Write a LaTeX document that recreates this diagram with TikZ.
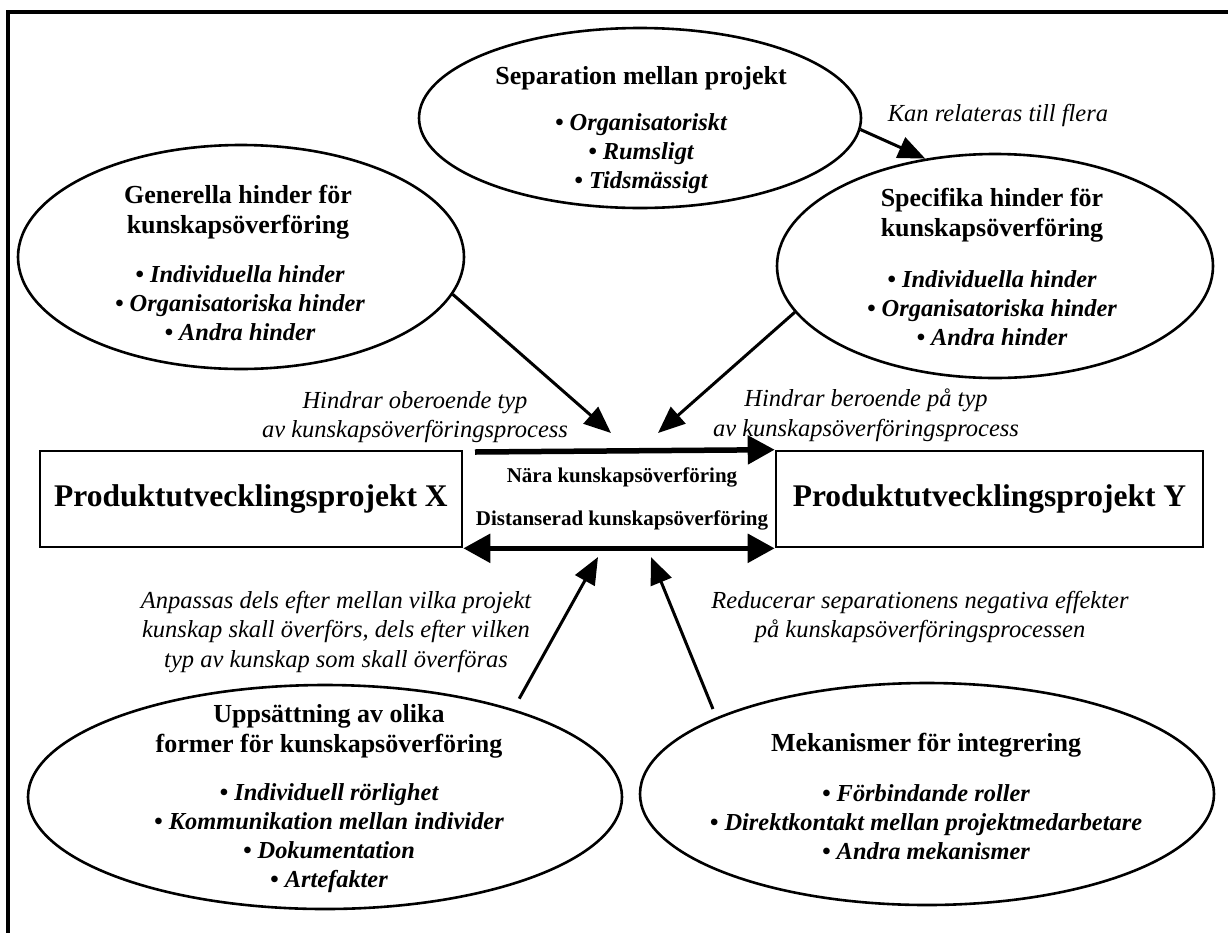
\documentclass[tikz,border=0pt]{standalone}
\usepackage{fontspec}
\setmainfont{Liberation Serif}
\usetikzlibrary{arrows.meta,positioning,shapes.geometric}

\begin{document}
\begin{tikzpicture}[x=1pt,y=-1pt,
  blob/.style={ellipse, draw, line width=2.6pt, inner sep=0pt},
  ttl/.style={font=\fontsize{26}{30}\selectfont\bfseries, align=center},
  itm/.style={font=\fontsize{24.4}{29}\selectfont\bfseries\itshape, align=center},
  lab/.style={font=\fontsize{24.5}{29.5}\selectfont\itshape, align=center},
  proj/.style={draw, line width=2.6pt, minimum height=96pt, inner sep=0pt, font=\fontsize{31.5}{36}\selectfont\bfseries},
  flowtxt/.style={font=\fontsize{21}{24}\selectfont\bfseries},
  arr/.style={line width=3pt, -{Triangle[length=27pt,width=22pt]}},
  flow/.style={line width=5.5pt},
  bighead/.tip={Triangle[length=27pt,width=28pt]}]
  \useasboundingbox (0,0) rectangle (1228,935);
  \draw[line width=3.5pt] (1228,12) -- (8,12) -- (8,933);

  \node[blob, minimum width=442pt, minimum height=180pt] (sep) at (640,118) {};
  \node[blob, minimum width=446pt, minimum height=224pt] (gen) at (241,257) {};
  \node[blob, minimum width=436pt, minimum height=224pt] (spec) at (995,266) {};
  \node[blob, minimum width=594pt, minimum height=224pt] (upp) at (325,797) {};
  \node[blob, minimum width=574pt, minimum height=222pt] (mek) at (927,794) {};

  \node[ttl] (sepT) at (641,78) {Separation mellan projekt};
  \node[itm] (sepL) at (641,154) {• Organisatoriskt\\• Rumsligt\\• Tidsmässigt};
  \node[ttl] (genT) at (238,212) {Generella hinder för\\kunskapsöverföring};
  \node[itm] (genL) at (240,303) {• Individuella hinder\\• Organisatoriska hinder\\• Andra hinder};
  \node[ttl] (specT) at (992,215) {Specifika hinder för\\kunskapsöverföring};
  \node[itm] (specL) at (992,308) {• Individuella hinder\\• Organisatoriska hinder\\• Andra hinder};
  \node[ttl] (uppT) at (329,731) {Uppsättning av olika\\former för kunskapsöverföring};
  \node[itm] (uppL) at (329,838) {• Individuell rörlighet\\• Kommunikation mellan individer\\• Dokumentation\\• Artefakter};
  \node[ttl] (mekT) at (926,745) {Mekanismer för integrering};
  \node[itm] (mekL) at (926,822) {• Förbindande roller\\• Direktkontakt mellan projektmedarbetare\\• Andra mekanismer};

  \node[proj, minimum width=422pt] (X) at (251,499) {Produktutvecklingsprojekt X};
  \node[proj, minimum width=427pt] (Y) at (989.5,499) {Produktutvecklingsprojekt Y};
  \node[flowtxt] (nara) at (622,477) {Nära kunskapsöverföring};
  \node[flowtxt] (dist) at (622,520) {Distanserad kunskapsöverföring};

  \node[lab] (kan) at (998,115) {Kan relateras till flera};
  \node[lab] (obero) at (415,417) {Hindrar oberoende typ\\av kunskapsöverföringsprocess};
  \node[lab] (bero) at (866,415) {Hindrar beroende på typ\\av kunskapsöverföringsprocess};
  \node[lab] (anp) at (336,632) {Anpassas dels efter mellan vilka projekt\\kunskap skall överförs, dels efter vilken\\typ av kunskap som skall överföras};
  \node[lab] (red) at (920,617) {Reducerar separationens negativa effekter\\på kunskapsöverföringsprocessen};

  \coordinate (tipGen) at (611,433);
  \coordinate (tipSpec) at (658,433);
  \coordinate (tipUpp) at (598,557);
  \coordinate (tipMek) at (651,557);
  \coordinate (topStart) at (475,452);

  \draw[arr] (sep.-3) -- (spec.123);
  \foreach \s/\t/\g in {gen.-10/tipGen/0, spec.193/tipSpec/0, upp.25/tipUpp/12, mek.160/tipMek/9}
    \draw[arr, shorten <=\g pt] (\s) -- (\t);
  \draw[flow, -bighead] (topStart) -- (Y.north west);
  \draw[flow, bighead-bighead] (X.south east) -- (Y.south west);
\end{tikzpicture}
\end{document}
